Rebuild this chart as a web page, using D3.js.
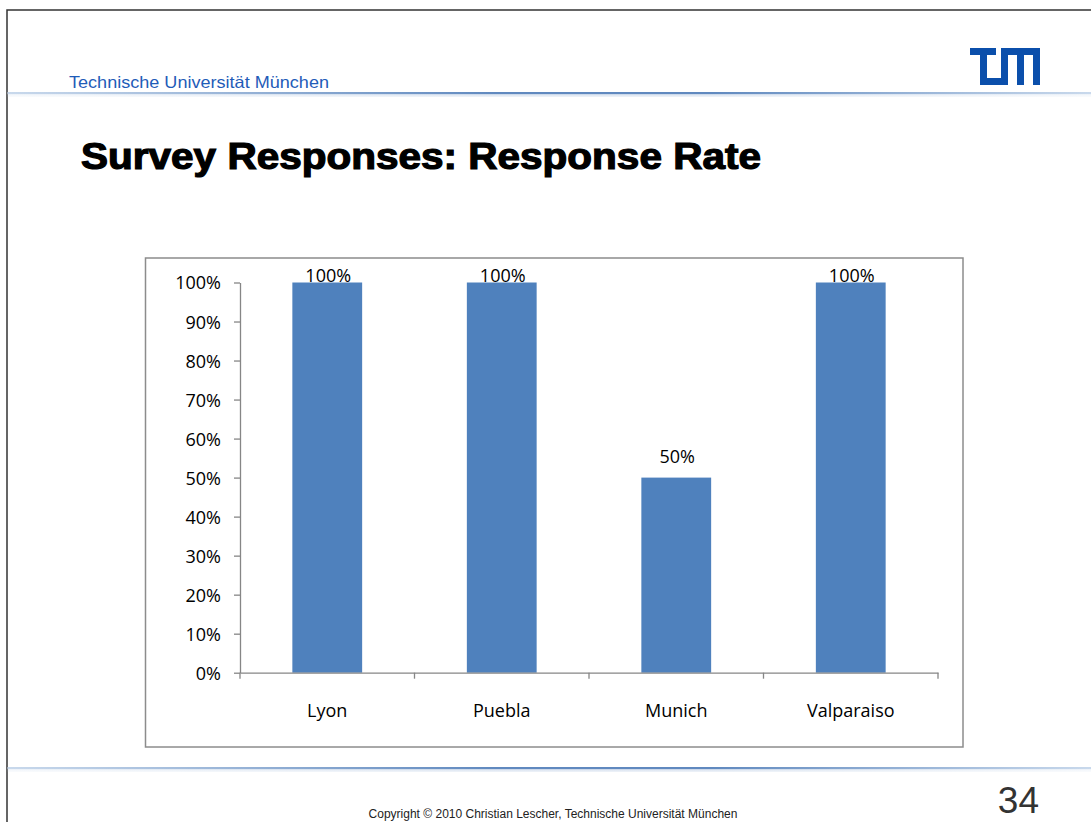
<!DOCTYPE html>
<html>
<head>
<meta charset="utf-8">
<script src="https://cdn.jsdelivr.net/npm/d3@7"></script>
<style>
  html, body { margin: 0; padding: 0; background: #fff; }
  svg { display: block; }
</style>
</head>
<body>
<svg id="chart" width="1091" height="822"></svg>
<script>
const categories = ["Lyon", "Puebla", "Munich", "Valparaiso"];
const responseRate = [1.0, 1.0, 0.5, 1.0];
const yTickValues = [0, 0.1, 0.2, 0.3, 0.4, 0.5, 0.6, 0.7, 0.8, 0.9, 1.0];
const titleText = "Survey Responses: Response Rate";
const headerText = "Technische Universität München";
const footerText = "Copyright © 2010 Christian Lescher, Technische Universität München";
const pageNumber = "34";

const svg = d3.select("#chart");
const defs = svg.append("defs");

// gradient for horizontal rules
const grad = defs.append("linearGradient").attr("id", "rule").attr("x1", "0%").attr("x2", "100%");
grad.append("stop").attr("offset", "0%").attr("stop-color", "#c9d9ec");
grad.append("stop").attr("offset", "45%").attr("stop-color", "#6089bf");
grad.append("stop").attr("offset", "65%").attr("stop-color", "#6089bf");
grad.append("stop").attr("offset", "100%").attr("stop-color", "#c9d9ec");

// slide border (top & left)
svg.append("path")
  .attr("d", "M7,822 V10 H1091")
  .attr("fill", "none").attr("stroke", "#333").attr("stroke-width", 1.5);

// header
svg.append("text")
  .attr("x", 69).attr("y", 88)
  .attr("font-family", "Liberation Sans, Arial, sans-serif")
  .attr("font-size", 16.5)
  .attr("fill", "#1f5cb8")
  .attr("textLength", 260).attr("lengthAdjust", "spacingAndGlyphs")
  .text(headerText);

function rule(y) {
  svg.append("rect").attr("x", 7.5).attr("y", y - 1).attr("width", 1083.5).attr("height", 2.2).attr("fill", "url(#rule)");
  svg.append("rect").attr("x", 7.5).attr("y", y + 1.2).attr("width", 1083.5).attr("height", 2.5).attr("fill", "url(#rule)").attr("opacity", 0.18);
}
rule(93);
rule(768);

// TUM logo
const logo = svg.append("g").attr("transform", "translate(970,48)").attr("fill", "#0b4fab");
[[0,0,26,7],[10,0,7,37],[10,30,28,7],[31,0,7,37],[31,0,39,7],[47,0,7,37],[63,0,7,37]]
  .forEach(r => logo.append("rect").attr("x", r[0]).attr("y", r[1]).attr("width", r[2]).attr("height", r[3]));

// title
svg.append("text")
  .attr("x", 81).attr("y", 169)
  .attr("font-family", "Liberation Sans, Arial, sans-serif")
  .attr("font-weight", "bold")
  .attr("font-size", 36)
  .attr("fill", "#000").attr("stroke", "#000").attr("stroke-width", 1.2)
  .attr("textLength", 680).attr("lengthAdjust", "spacingAndGlyphs")
  .text(titleText);

// footer
svg.append("text")
  .attr("x", 553).attr("y", 818)
  .attr("text-anchor", "middle")
  .attr("font-family", "Liberation Sans, Arial, sans-serif")
  .attr("font-size", 12)
  .attr("fill", "#222")
  .text(footerText);

svg.append("text")
  .attr("x", 1039).attr("y", 813)
  .attr("text-anchor", "end")
  .attr("font-family", "Liberation Sans Narrow, Liberation Sans, Arial, sans-serif")
  .attr("font-size", 37)
  .attr("fill", "#333")
  .text(pageNumber);

// chart frame
svg.append("rect")
  .attr("x", 145.5).attr("y", 258).attr("width", 817.5).attr("height", 489)
  .attr("fill", "#fff").attr("stroke", "#8c8c8c").attr("stroke-width", 1.5);

const x = d3.scaleBand().domain(categories).range([240, 938]).padding(0);
const y = d3.scaleLinear().domain([0, 1]).range([672.7, 282.5]);
const barFrac = 0.4;
const axisColor = "#868686";
const labelFont = "Open Sans, Lato, sans-serif";
const labelSize = 18;
const pct = d3.format(".0%");

// bars
svg.append("g").selectAll("rect")
  .data(categories)
  .join("rect")
  .attr("x", (d) => x(d) + x.bandwidth() * (1 - barFrac) / 2)
  .attr("width", x.bandwidth() * barFrac)
  .attr("y", (d, i) => y(responseRate[i]))
  .attr("height", (d, i) => y(0) - y(responseRate[i]))
  .attr("fill", "#4f81bd");

// y axis
const yAxis = svg.append("g").attr("transform", "translate(240,0)")
  .call(d3.axisLeft(y).tickValues(yTickValues).tickFormat(pct).tickSizeInner(6).tickSizeOuter(0).tickPadding(13));
yAxis.select(".domain").attr("stroke", axisColor).attr("stroke-width", 1.3);
yAxis.selectAll(".tick line").attr("stroke", axisColor).attr("stroke-width", 1.3);
yAxis.selectAll(".tick text").attr("font-family", labelFont).attr("font-size", labelSize).attr("fill", "#000").attr("dy", "0.36em");

// x axis
const xAxis = svg.append("g").attr("transform", `translate(0,${y(0)})`)
  .call(d3.axisBottom(x).tickSize(0).tickPadding(44));
xAxis.select(".domain").attr("stroke", axisColor).attr("stroke-width", 1.3);
xAxis.selectAll(".tick text").attr("font-family", labelFont).attr("font-size", labelSize).attr("fill", "#000").attr("dy", "0");
// category separators
const bounds = categories.map(c => x(c)).concat([x(categories[categories.length - 1]) + x.bandwidth()]);
xAxis.selectAll(".sep").data(bounds).join("line")
  .attr("class", "sep")
  .attr("x1", d => d).attr("x2", d => d).attr("y1", 0).attr("y2", 6)
  .attr("stroke", axisColor).attr("stroke-width", 1.3);

// data labels (clamped inside plot area like the original)
svg.append("g").selectAll("text")
  .data(categories)
  .join("text")
  .attr("x", (d) => x(d) + x.bandwidth() / 2 + 1)
  .attr("y", (d, i) => Math.max(y(responseRate[i]) - 15, y(1) - 1))
  .attr("text-anchor", "middle")
  .attr("font-family", labelFont).attr("font-size", labelSize).attr("fill", "#000")
  .text((d, i) => pct(responseRate[i]));
</script>
</body>
</html>
